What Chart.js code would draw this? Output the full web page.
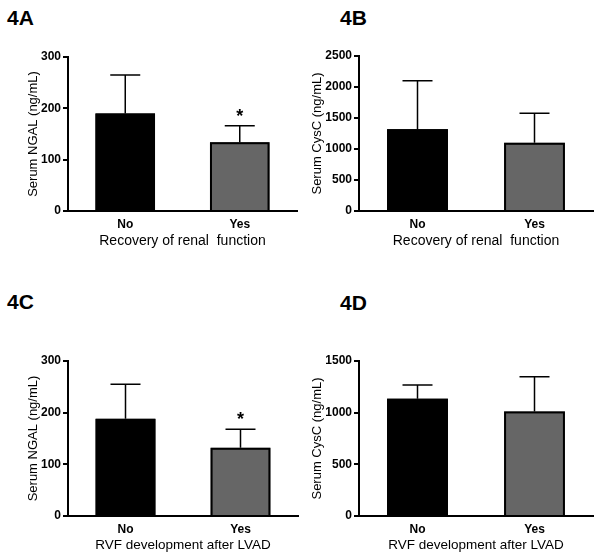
<!DOCTYPE html>
<html>
<head>
<meta charset="utf-8">
<script src="https://cdn.jsdelivr.net/npm/chart.js@4.4.1/dist/chart.umd.min.js"></script>
<style>
  body { margin: 0; background: #fff; width: 600px; height: 559px; position: relative; overflow: hidden; font-family: "Liberation Sans", Arial, sans-serif; }
  canvas { position: absolute; }
  .lbl { position: absolute; font-weight: bold; font-size: 21px; line-height: 21px; }
</style>
</head>
<body>
<div class="lbl" style="left:7px;top:7px">4A</div>
<div class="lbl" style="left:340px;top:7px">4B</div>
<div class="lbl" style="left:7px;top:291px">4C</div>
<div class="lbl" style="left:340px;top:292px">4D</div>
<canvas id="cA" width="300" height="280" style="left:0;top:0"></canvas>
<canvas id="cB" width="300" height="280" style="left:300px;top:0"></canvas>
<canvas id="cC" width="300" height="279" style="left:0;top:280px"></canvas>
<canvas id="cD" width="300" height="279" style="left:300px;top:280px"></canvas>
<script>
const groups = ['No', 'Yes'];

// means and upper error (SD)
const ngalRenal = [190, 134];
const ngalRenalErr = [75, 32];
const cysRenal = [1320, 1100];
const cysRenalErr = [780, 475];
const ngalRvf = [188, 132];
const ngalRvfErr = [67, 36];
const cysRvf = [1135, 1012];
const cysRvfErr = [133, 335];

const ngalMarks = ['', '*'];
const cysMarks = ['', ''];

const ngalTicks = [0, 100, 200, 300];
const cysRenalTicks = [0, 500, 1000, 1500, 2000, 2500];
const cysRvfTicks = [0, 500, 1000, 1500];

const barColors = ['#000000', '#666666'];

// outlines, SD whiskers and significance marks
const errorBars = {
  id: 'errorBars',
  afterDatasetsDraw(chart) {
    const ctx = chart.ctx;
    const y = chart.scales.y;
    const base = y.getPixelForValue(0);
    const ds = chart.data.datasets[0];
    chart.getDatasetMeta(0).data.forEach((bar, i) => {
      const top = y.getPixelForValue(ds.data[i] + ds.err[i]);
      ctx.save();
      ctx.strokeStyle = '#000';
      ctx.lineWidth = 2;
      ctx.strokeRect(bar.x - bar.width / 2 + 1, bar.y + 1, bar.width - 2, base - bar.y - 1);
      ctx.lineWidth = 1.5;
      ctx.beginPath();
      ctx.moveTo(bar.x, bar.y);
      ctx.lineTo(bar.x, top);
      ctx.moveTo(bar.x - 15, top);
      ctx.lineTo(bar.x + 15, top);
      ctx.stroke();
      if (ds.marks[i]) {
        ctx.fillStyle = '#000';
        ctx.font = 'bold 18px "Liberation Sans", Arial, sans-serif';
        ctx.textAlign = 'center';
        ctx.fillText(ds.marks[i], bar.x, top - 4);
      }
      ctx.restore();
    });
  }
};

function panel(id, values, err, marks, ticks, yTitle, xTitle, xSize, area, titleX, titleY) {
  const cv = document.getElementById(id);
  const W = cv.width, H = cv.height;
  const lh = xSize * 1.2;
  new Chart(cv, {
    type: 'bar',
    data: {
      labels: groups,
      datasets: [{
        data: values,
        err: err,
        marks: marks,
        backgroundColor: barColors,
        borderWidth: 0,
        barPercentage: 0.52,
        categoryPercentage: 1
      }]
    },
    options: {
      responsive: false,
      animation: false,
      layout: { padding: { left: 0, top: area.top, right: W - area.right, bottom: 0 } },
      plugins: { legend: { display: false }, tooltip: { enabled: false } },
      scales: {
        x: {
          grid: { display: false, drawTicks: false },
          border: { display: true, color: '#000', width: 2 },
          ticks: { color: '#000', padding: 6, font: { size: 12, weight: 'bold', family: '"Liberation Sans", Arial, sans-serif' } },
          title: {
            display: true, text: xTitle, color: '#000',
            font: { size: xSize, family: '"Liberation Sans", Arial, sans-serif' },
            padding: { top: 0, bottom: H - titleY - lh / 2 }
          },
          afterFit: s => { s.height = H - area.bottom; }
        },
        y: {
          min: 0,
          max: ticks[ticks.length - 1],
          grid: { drawOnChartArea: false, color: '#000', lineWidth: 2, tickLength: 5 },
          border: { display: true, color: '#000', width: 2 },
          ticks: {
            stepSize: ticks[1] - ticks[0], color: '#000', padding: 2,
            callback: v => String(v),
            font: { size: 12, weight: 'bold', family: '"Liberation Sans", Arial, sans-serif' }
          },
          title: {
            display: true, text: yTitle, color: '#000',
            font: { size: 13, family: '"Liberation Sans", Arial, sans-serif' },
            padding: { top: titleX - 7.8, bottom: 0 }
          },
          afterFit: s => { s.width = area.left; }
        }
      }
    },
    plugins: [errorBars]
  });
}

panel('cA', ngalRenal, ngalRenalErr, ngalMarks, ngalTicks, 'Serum NGAL (ng/mL)', 'Recovery of renal  function', 14,
  { left: 68, right: 297, top: 57, bottom: 211 }, 33, 241);
panel('cB', cysRenal, cysRenalErr, cysMarks, cysRenalTicks, 'Serum CysC (ng/mL)', 'Recovery of renal  function', 14,
  { left: 59, right: 293, top: 56, bottom: 211 }, 17, 241);
panel('cC', ngalRvf, ngalRvfErr, ngalMarks, ngalTicks, 'Serum NGAL (ng/mL)', 'RVF development after LVAD', 13.5,
  { left: 68, right: 298, top: 81, bottom: 236 }, 33, 265);
panel('cD', cysRvf, cysRvfErr, cysMarks, cysRvfTicks, 'Serum CysC (ng/mL)', 'RVF development after LVAD', 13.5,
  { left: 59, right: 293, top: 81, bottom: 236 }, 17, 265);
</script>
</body>
</html>
